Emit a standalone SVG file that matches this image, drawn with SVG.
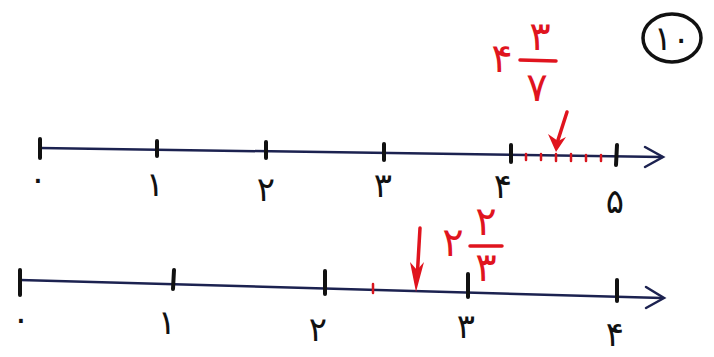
<svg xmlns="http://www.w3.org/2000/svg" width="714" height="357" viewBox="0 0 714 357">
<style>
.ax{stroke:#1c2250;stroke-width:2.5;fill:none;stroke-linecap:round}
.tk{stroke:#111;stroke-width:4;stroke-linecap:round}
.rt{stroke:#d8161e;stroke-width:2.5;stroke-linecap:round}
.rl{stroke:#e0141e;stroke-width:3.5;fill:none;stroke-linecap:round}
.ah{fill:#e0141e}
.lb{font-family:"DejaVu Sans",sans-serif;font-size:34px;fill:#111;text-anchor:middle}
.rd{font-family:"DejaVu Sans",sans-serif;font-size:40px;fill:#e0141e;text-anchor:middle}
</style>
<rect width="714" height="357" fill="#fff"/>
<g id="badge">
<ellipse cx="672" cy="38" rx="29" ry="24" fill="none" stroke="#111" stroke-width="3.5"/>
<text x="672" y="50" class="lb" font-size="34">۱۰</text>
</g>
<g id="line1">
<path class="ax" d="M40,148 L662,157"/>
<path class="ax" d="M645,147 L663,157 L645,167"/>
<line class="tk" x1="40" y1="139" x2="40" y2="158"/>
<line class="tk" x1="157" y1="141" x2="157" y2="156"/>
<line class="tk" x1="266" y1="142" x2="266" y2="158"/>
<line class="tk" x1="384" y1="144" x2="384" y2="160"/>
<line class="tk" x1="511" y1="145" x2="511" y2="162"/>
<line class="tk" x1="617" y1="145" x2="616" y2="165"/>
<line class="rt" x1="526" y1="154" x2="526" y2="160"/>
<line class="rt" x1="541" y1="154" x2="541" y2="160"/>
<line class="rt" x1="556" y1="154" x2="556" y2="161"/>
<line class="rt" x1="571" y1="154" x2="571" y2="161"/>
<line class="rt" x1="586" y1="155" x2="586" y2="161"/>
<line class="rt" x1="601" y1="155" x2="601" y2="161"/>
<text x="38" y="190" class="lb" font-size="26">۰</text>
<text x="155" y="196" class="lb">۱</text>
<text x="266" y="201" class="lb">۲</text>
<text x="383" y="197" class="lb">۳</text>
<text x="503" y="198" class="lb">۴</text>
<text x="615" y="213" class="lb">۵</text>
</g>
<g id="mark1">
<text x="502" y="72" class="rd">۴</text>
<line class="rl" x1="520" y1="60" x2="556" y2="61"/>
<text x="540" y="50" class="rd">۳</text>
<text x="537" y="101" class="rd">۷</text>
<path class="rl" d="M567,112 L558,140"/>
<polygon class="ah" points="548,134 556,152 566,137 558,141"/>
</g>
<g id="line2">
<path class="ax" d="M20,280 L662,298"/>
<path class="ax" d="M646,287 L664,298 L646,308"/>
<line class="tk" x1="20" y1="270" x2="20" y2="295"/>
<line class="tk" x1="174" y1="270" x2="173" y2="289"/>
<line class="tk" x1="325" y1="271" x2="325" y2="294"/>
<line class="tk" x1="468" y1="274" x2="468" y2="297"/>
<line class="tk" x1="617" y1="280" x2="617" y2="301"/>
<line class="rt" x1="373" y1="284" x2="373" y2="293"/>
<text x="21" y="330" class="lb" font-size="26">۰</text>
<text x="167" y="334" class="lb">۱</text>
<text x="318" y="341" class="lb">۲</text>
<text x="466" y="338" class="lb">۳</text>
<text x="615" y="346" class="lb">۴</text>
</g>
<g id="mark2">
<text x="453" y="256" class="rd" font-size="34">۲</text>
<line class="rl" x1="470" y1="246" x2="502" y2="246"/>
<text x="486" y="235" class="rd" font-size="24">۲</text>
<text x="486" y="281" class="rd" font-size="24">۳</text>
<path class="rl" d="M420,228 L417,280"/>
<polygon class="ah" points="410,262 416,292 424,262 417,270"/>
</g>
</svg>
